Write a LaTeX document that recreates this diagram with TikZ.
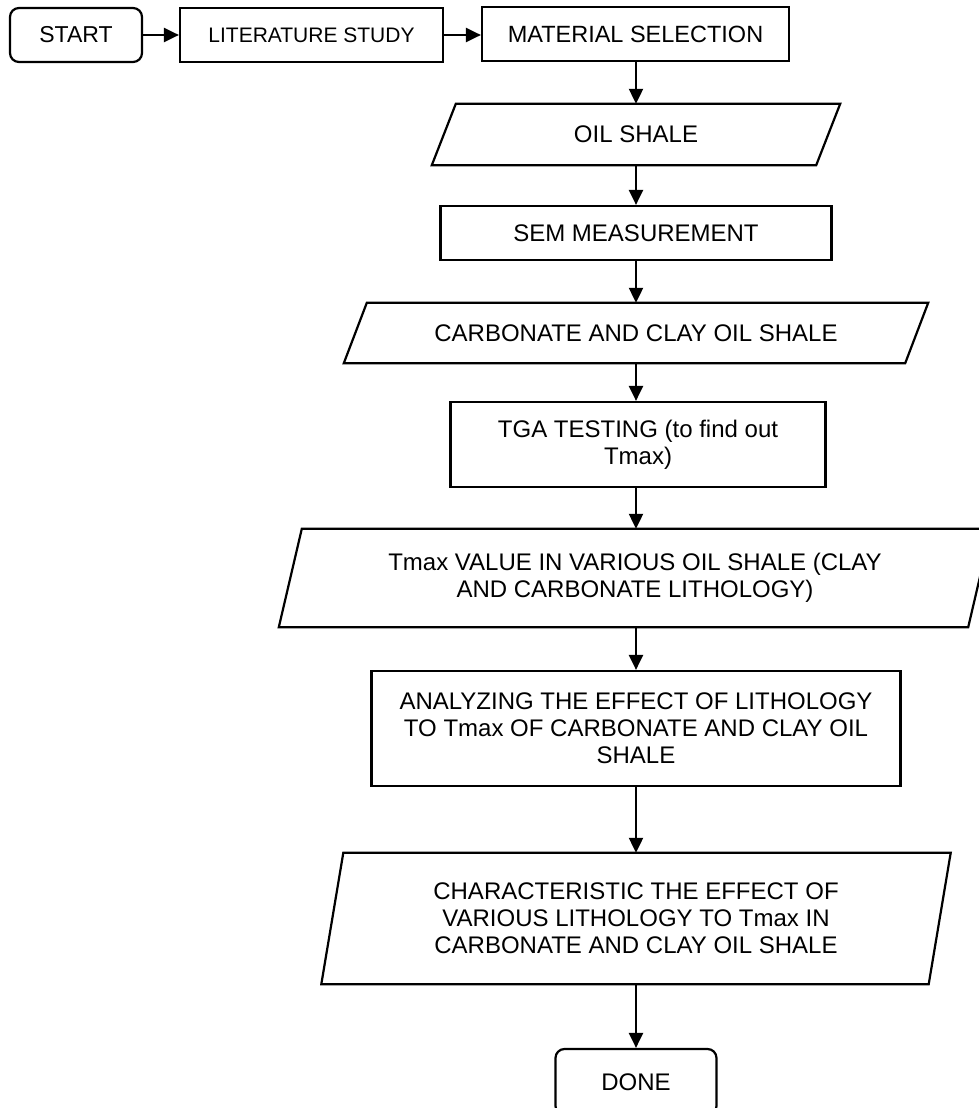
\documentclass[tikz,border=0pt]{standalone}
\usepackage{fontspec}
\setmainfont{Liberation Sans}
\usetikzlibrary{arrows.meta}
\newcommand{\drawpgram}[2]{%
  \draw[outl] ([xshift=#2]#1.north west) -- ([xshift=#2]#1.north east)
    -- ([xshift=-#2]#1.south east) -- ([xshift=-#2]#1.south west) -- cycle;}
\begin{document}
\begin{tikzpicture}[x=1pt,y=-1pt,
  outl/.style={line width=2.2pt,line join=miter},
  box/.style={draw,line width=2.2pt,inner sep=0pt,align=center,
    font=\fontsize{24}{27}\selectfont},
  rbox/.style={box,rounded corners=9pt},
  pbox/.style={inner sep=0pt,align=center,font=\fontsize{24}{27}\selectfont},
  arr/.style={line width=2.2pt,-{Triangle[length=15pt,width=14pt]}}]
\useasboundingbox (0,0) rectangle (979,1108);
\clip (0,0) rectangle (979,1108);
% top row
\node[rbox,minimum width=132pt,minimum height=54pt,font=\fontsize{23}{27}\selectfont] (start) at (76,35) {START};
\node[box,minimum width=263pt,minimum height=54pt,font=\fontsize{21}{25}\selectfont] (lit) at (311.5,35) {LITERATURE STUDY};
\node[box,minimum width=307pt,minimum height=54pt,font=\fontsize{23.5}{27}\selectfont] (mat) at (635.5,34) {MATERIAL SELECTION};
% column
\node[pbox,minimum width=384pt,minimum height=61pt] (oil) at (636,134.5) {OIL SHALE};
\drawpgram{oil}{12pt}
\node[box,minimum width=391pt,minimum height=54pt] (sem) at (636,233) {SEM MEASUREMENT};
\node[pbox,minimum width=561pt,minimum height=60pt] (carb) at (636,333) {CARBONATE AND CLAY OIL SHALE};
\drawpgram{carb}{11.5pt}
\node[box,minimum width=375pt,minimum height=85pt] (tga) at (638,444.5) {TGA TESTING (to find out\\Tmax)};
\node[pbox,minimum width=689pt,minimum height=98pt] (tmax) at (635,578) {Tmax VALUE IN VARIOUS OIL SHALE (CLAY\\AND CARBONATE LITHOLOGY)};
\drawpgram{tmax}{11.5pt}
\node[box,minimum width=529pt,minimum height=115pt] (ana) at (636,728.5) {ANALYZING THE EFFECT OF LITHOLOGY\\TO Tmax OF CARBONATE AND CLAY OIL\\SHALE};
\node[pbox,minimum width=607pt,minimum height=131pt] (char) at (636,918.5) {CHARACTERISTIC THE EFFECT OF\\VARIOUS LITHOLOGY TO Tmax IN\\CARBONATE AND CLAY OIL SHALE};
\drawpgram{char}{11pt}
\node[rbox,minimum width=161pt,minimum height=66pt] (done) at (636,1082) {DONE};
% connectors
\draw[arr] (start.east) -- (lit.west);
\draw[arr] (lit.east) -- (lit.east -| mat.west);
\draw[arr] (mat.south -| oil.north) -- (oil.north);
\draw[arr] (oil.south) -- (oil.south |- sem.north);
\draw[arr] (sem.south) -- (sem.south |- carb.north);
\draw[arr] (carb.south) -- (carb.south |- tga.north);
\draw[arr] (tga.south -| carb.south) -- (carb.south |- tmax.north);
\draw[arr] (tmax.south -| ana.north) -- (ana.north);
\draw[arr] (ana.south) -- (ana.south |- char.north);
\draw[arr] (char.south -| done.north) -- (done.north);
\end{tikzpicture}
\end{document}
